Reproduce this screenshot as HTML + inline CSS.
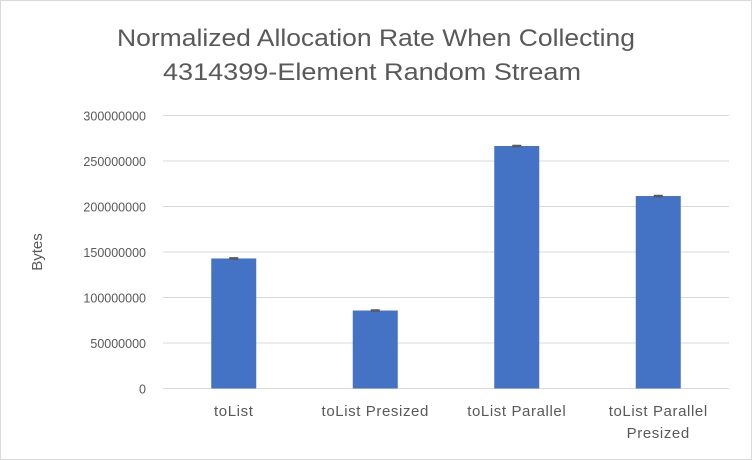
<!DOCTYPE html>
<html><head><meta charset="utf-8"><style>
body{margin:0;background:#fff;}
svg{display:block;font-family:"Liberation Sans",sans-serif;}
</style></head><body>
<svg id="chart" width="752" height="460" viewBox="0 0 752 460">
<rect x="0.5" y="0.5" width="751" height="459" fill="#fff" stroke="#d9d9d9"/>
<text x="376" y="46" text-anchor="middle" font-size="24" fill="#595959" textLength="518" lengthAdjust="spacingAndGlyphs">Normalized Allocation Rate When Collecting</text>
<text x="372" y="80" text-anchor="middle" font-size="24" fill="#595959" textLength="418" lengthAdjust="spacingAndGlyphs">4314399-Element Random Stream</text>
<text transform="translate(42,252) rotate(-90)" text-anchor="middle" font-size="15" fill="#595959">Bytes</text>
<g id="grid"></g><g id="bars"></g><g id="xl"></g>
</svg>
<script>
const categories=[["toList"],["toList Presized"],["toList Parallel"],["toList Parallel","Presized"]];
const values=[142900000,85700000,266500000,211500000];
const errors=[600000,600000,600000,600000];
const ticks=[0,50000000,100000000,150000000,200000000,250000000,300000000];
const NS="http://www.w3.org/2000/svg";
const x0=163,x1=729,y0=388.5,y1=115.5,yMax=300000000;
const y=v=>y0-(v/yMax)*(y0-y1);
const band=(x1-x0)/categories.length;
const cx=i=>x0+band*(i+0.5);
function mk(tag,attrs,parent){const e=document.createElementNS(NS,tag);for(const k in attrs)e.setAttribute(k,attrs[k]);parent.appendChild(e);return e;}
const grid=document.getElementById('grid'),bars=document.getElementById('bars'),xl=document.getElementById('xl');
ticks.forEach(t=>{
 const l=mk('line',{x1:x0,x2:x1,y1:y(t),y2:y(t),stroke:'#d9d9d9','stroke-width':1},grid);
 
 
 const tx=mk('text',{x:146,y:y(t)+5,'text-anchor':'end','font-size':12.5,fill:'#595959'},grid);
 tx.textContent=t;
 
 
});
values.forEach((v,i)=>{
 const w=45;
 const r=mk('rect',{x:cx(i)-w/2,y:y(v),width:w,height:y0-y(v),fill:'#4472c4'},bars);
 
 
 const e=errors[i];
 const eb=mk('path',{d:`M${cx(i)-4.5},${y(v+e)}H${cx(i)+4.5}M${cx(i)},${y(v+e)}V${y(v-e)}M${cx(i)-4.5},${y(v-e)}H${cx(i)+4.5}`,stroke:'#595959','stroke-width':1.5,fill:'none'},bars);
 
 
 categories[i].forEach((s,j)=>{
  const t=mk('text',{x:cx(i),y:416+j*22,'text-anchor':'middle','font-size':15,'letter-spacing':0.6,fill:'#595959'},xl);
  t.textContent=s;
  
  
 });
});
</script>
</body></html>
